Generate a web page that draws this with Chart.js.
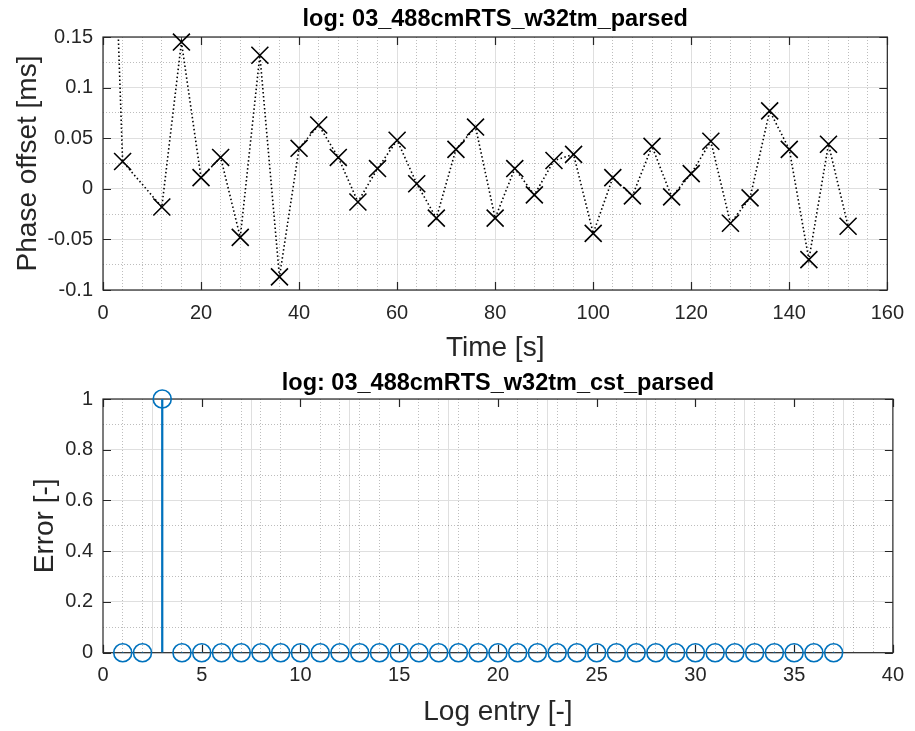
<!DOCTYPE html>
<html>
<head>
<meta charset="utf-8">
<script src="https://cdn.jsdelivr.net/npm/chart.js@4.4.0/dist/chart.umd.min.js"></script>
<style>
  body { margin: 0; background: #fff; }
  .panel { position: relative; width: 915px; }
</style>
</head>
<body>
<div class="panel" style="height:366px"><canvas id="phaseChart"></canvas></div>
<div class="panel" style="height:365px"><canvas id="errorChart"></canvas></div>
<script>
// Phase offset per log sample (first sample is far off scale)
const timeSec = [0, 4, 12, 16, 20, 24, 28, 32, 36, 40, 44, 48, 52, 56, 60, 64, 68, 72, 76,
  80, 84, 88, 92, 96, 100, 104, 108, 112, 116, 120, 124, 128, 132, 136, 140, 144, 148, 152];
const phaseOffsetMs = [0.59, 0.027, -0.018, 0.145, 0.011, 0.031, -0.048, 0.132, -0.087, 0.040,
  0.063, 0.031, -0.013, 0.020, 0.048, 0.005, -0.029, 0.039, 0.061, -0.029, 0.020, -0.006,
  0.028, 0.034, -0.044, 0.011, -0.007, 0.042, -0.008, 0.015, 0.047, -0.034, -0.009, 0.077,
  0.039, -0.070, 0.044, -0.037];

// Error flag per log entry
const logEntry = [1, 2, 3, 4, 5, 6, 7, 8, 9, 10, 11, 12, 13, 14, 15, 16, 17, 18, 19, 20,
  21, 22, 23, 24, 25, 26, 27, 28, 29, 30, 31, 32, 33, 34, 35, 36, 37];
const errorFlag = [0, 0, 1, 0, 0, 0, 0, 0, 0, 0, 0, 0, 0, 0, 0, 0, 0, 0, 0, 0,
  0, 0, 0, 0, 0, 0, 0, 0, 0, 0, 0, 0, 0, 0, 0, 0, 0];

const phaseYTicks = [-0.1, -0.05, 0, 0.05, 0.1, 0.15];
const errorYTicks = [0, 0.2, 0.4, 0.6, 0.8, 1];

const AXIS_COLOR = '#262626';
const MAJOR_GRID = 'rgb(223,223,223)';
const MINOR_GRID = 'rgba(38,38,38,0.3)';
const STEM_BLUE = 'rgb(0,114,189)';
const FONT = 'Liberation Sans, Arial, Helvetica, sans-serif';

// matlab-ish box with ticks pointing inward, title centred over the axes
const boxPlugin = {
  id: 'axesBox',
  beforeDatasetsDraw(chart) {
    const { ctx, chartArea: a, scales } = chart;
    const len = 8;
    ctx.save();
    ctx.strokeStyle = AXIS_COLOR;
    ctx.lineWidth = 1.2;
    ctx.beginPath();
    scales.x.ticks.forEach(t => {
      const px = Math.round(scales.x.getPixelForValue(t.value)) + 0.5;
      ctx.moveTo(px, a.bottom); ctx.lineTo(px, a.bottom - len);
      ctx.moveTo(px, a.top); ctx.lineTo(px, a.top + len);
    });
    scales.y.ticks.forEach(t => {
      const py = Math.round(scales.y.getPixelForValue(t.value)) + 0.5;
      ctx.moveTo(a.left, py); ctx.lineTo(a.left + len, py);
      ctx.moveTo(a.right, py); ctx.lineTo(a.right - len, py);
    });
    ctx.stroke();
    ctx.strokeRect(a.left, a.top, a.right - a.left, a.bottom - a.top);
    ctx.restore();
  },
  afterDraw(chart, args, opts) {
    const { ctx, chartArea: a } = chart;
    ctx.save();
    ctx.fillStyle = '#000';
    ctx.font = 'bold 23.5px ' + FONT;
    ctx.textAlign = 'center';
    ctx.textBaseline = 'middle';
    ctx.fillText(opts.text, (a.left + a.right) / 2, opts.y);
    ctx.restore();
  }
};

function isMajor(v, step) {
  const r = v / step;
  return Math.abs(r - Math.round(r)) < 1e-6;
}

// hidden axis that only draws the dotted minor grid
function minorAxis(pos, min, max, step, majorStep) {
  return {
    type: 'linear', position: pos, min: min, max: max,
    ticks: { display: false, stepSize: step },
    border: { display: false, dash: [1, 2] },
    grid: {
      drawTicks: false,
      color: c => isMajor(c.tick.value, majorStep) ? 'rgba(0,0,0,0)' : MINOR_GRID,
      lineWidth: 1
    },
    afterFit: s => { if (pos === 'bottom') s.height = 0; else s.width = 0; }
  };
}

function mainAxes(cfg) {
  return {
    x: {
      type: 'linear', position: 'bottom', min: cfg.xMin, max: cfg.xMax, offset: false,
      ticks: { stepSize: cfg.xStep, color: AXIS_COLOR, padding: 11, maxRotation: 0,
        font: { family: FONT, size: 20 } },
      border: { display: false },
      grid: { color: MAJOR_GRID, drawTicks: false },
      title: { display: true, text: cfg.xTitle, color: AXIS_COLOR,
        font: { family: FONT, size: 28 }, padding: { top: 0, bottom: cfg.xTitlePad } },
      afterFit: s => { s.height = cfg.xHeight; }
    },
    y: {
      type: 'linear', position: 'left', min: cfg.yMin, max: cfg.yMax,
      afterBuildTicks: s => { s.ticks = cfg.yTicks.map(v => ({ value: v })); },
      ticks: { color: AXIS_COLOR, padding: 10, font: { family: FONT, size: 20 },
        callback: v => String(+v.toFixed(2)) },
      border: { display: false },
      grid: { color: MAJOR_GRID, drawTicks: false },
      title: { display: true, text: cfg.yTitle, color: AXIS_COLOR,
        font: { family: FONT, size: 28 }, padding: { top: cfg.yTitlePad, bottom: 0 } },
      afterFit: s => { s.width = 103; }
    },
    xMinor: minorAxis('bottom', cfg.xMin, cfg.xMax, cfg.xMinor, cfg.xStep),
    yMinor: minorAxis('left', cfg.yMin, cfg.yMax, cfg.yMinor, cfg.yStep)
  };
}

const phasePoints = timeSec.map((t, i) => ({ x: t, y: phaseOffsetMs[i] }));

new Chart(document.getElementById('phaseChart'), {
  type: 'scatter',
  data: {
    datasets: [
      {
        data: phasePoints, showLine: true, borderColor: '#000', borderWidth: 1.6,
        borderDash: [1.5, 2.5], pointRadius: 0, fill: false
      },
      {
        data: phasePoints, showLine: false, pointStyle: 'crossRot', pointRadius: 12,
        borderColor: '#000', pointBorderWidth: 1.6, clip: 14
      }
    ]
  },
  options: {
    responsive: true, maintainAspectRatio: false, animation: false,
    layout: { padding: { left: 0, right: 21, top: 37, bottom: 0 } },
    plugins: { legend: { display: false }, tooltip: { enabled: false },
      axesBox: { text: 'log: 03_488cmRTS_w32tm_parsed', y: 20 } },
    scales: mainAxes({
      xMin: 0, xMax: 160, xStep: 20, xMinor: 4, xTitle: 'Time [s]', xTitlePad: 1, xHeight: 76,
      yMin: -0.1, yMax: 0.15, yStep: 0.05, yMinor: 0.025, yTicks: phaseYTicks,
      yTitle: 'Phase offset [ms]', yTitlePad: 11
    })
  },
  plugins: [boxPlugin]
});

const errorPoints = logEntry.map((n, i) => ({ x: n, y: errorFlag[i] }));

new Chart(document.getElementById('errorChart'), {
  type: 'scatter',
  data: {
    datasets: [
      {
        type: 'bar', data: errorPoints, backgroundColor: STEM_BLUE, barThickness: 1.6,
        borderWidth: 0
      },
      {
        data: errorPoints, showLine: false, pointStyle: 'circle', pointRadius: 9,
        backgroundColor: 'rgba(0,0,0,0)', borderColor: STEM_BLUE, pointBorderWidth: 1.6, clip: 14
      }
    ]
  },
  options: {
    responsive: true, maintainAspectRatio: false, animation: false,
    layout: { padding: { left: 0, right: 21, top: 33, bottom: 0 } },
    plugins: { legend: { display: false }, tooltip: { enabled: false },
      axesBox: { text: 'log: 03_488cmRTS_w32tm_cst_parsed', y: 18 } },
    scales: mainAxes({
      xMin: 0, xMax: 40, xStep: 5, xMinor: 1, xTitle: 'Log entry [-]', xTitlePad: 2, xHeight: 78.3,
      yMin: 0, yMax: 1, yStep: 0.2, yMinor: 0.1, yTicks: errorYTicks,
      yTitle: 'Error [-]', yTitlePad: 28
    })
  },
  plugins: [boxPlugin]
});
</script>
</body>
</html>
